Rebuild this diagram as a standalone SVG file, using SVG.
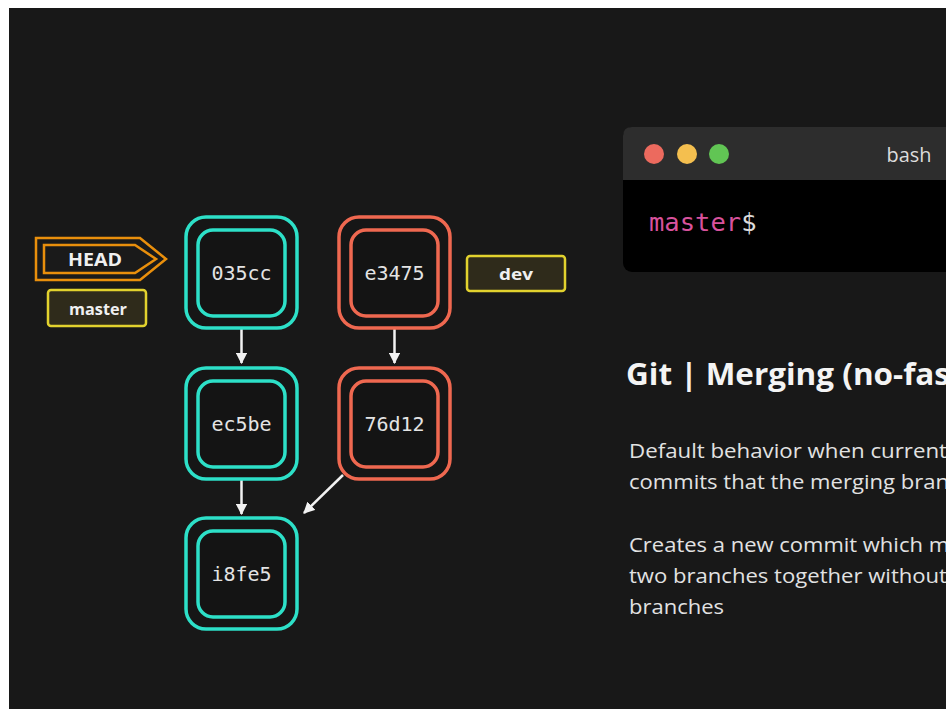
<svg xmlns="http://www.w3.org/2000/svg" width="946" height="709" viewBox="0 0 946 709">
<defs>
<style>
.outerT{fill:#161616;stroke:#2de0c8;stroke-width:3.5}
.innerT{fill:#141414;stroke:#2de0c8;stroke-width:3.5}
.outerR{fill:#161616;stroke:#ef6850;stroke-width:3.5}
.innerR{fill:#141414;stroke:#ef6850;stroke-width:3.5}
.hash{font-family:"DejaVu Sans Mono",monospace;font-size:20px;fill:#e4e4e4;text-anchor:middle;dominant-baseline:central}
.lbl{font-family:"Open Sans",Lato,sans-serif;font-weight:bold;fill:#f0f0f0;text-anchor:middle;dominant-baseline:central}
.branch{fill:#2f2b1b;stroke:#e2d22e;stroke-width:2.5}
.conn{stroke:#f2f2f2;stroke-width:2.5;fill:none}
.body{font-family:"Open Sans",Lato,sans-serif;font-size:20.5px;fill:#e2e2e2}
</style>
<marker id="ah" viewBox="0 0 10 10" refX="9" refY="5" markerWidth="4.6" markerHeight="4.6" orient="auto" markerUnits="strokeWidth">
<path d="M0,0 L10,5 L0,10 z" fill="#f2f2f2"/>
</marker>
</defs>
<rect x="0" y="0" width="946" height="709" fill="#ffffff"/>
<rect x="9" y="8" width="937" height="701" fill="#181818"/>

<g id="connectors">
<line class="conn" x1="241.5" y1="329" x2="241.5" y2="363" marker-end="url(#ah)"/>
<line class="conn" x1="241.5" y1="480" x2="241.5" y2="514" marker-end="url(#ah)"/>
<line class="conn" x1="394.5" y1="329" x2="394.5" y2="363" marker-end="url(#ah)"/>
<line class="conn" x1="343" y1="475" x2="304" y2="513" marker-end="url(#ah)"/>
</g>

<g id="head">
<path d="M36,238 L140,238 L166,259 L140,280 L36,280 Z" fill="#1a1a1a" stroke="#e98f0c" stroke-width="2.5"/>
<path d="M44,245 L135,245 L156,259 L135,273 L44,273 Z" fill="none" stroke="#e98f0c" stroke-width="2.5"/>
<text class="lbl" x="95" y="259" font-size="18" textLength="54" lengthAdjust="spacingAndGlyphs">HEAD</text>
</g>
<g id="master">
<rect class="branch" x="48" y="290" width="98" height="36" rx="3"/>
<text class="lbl" x="98" y="308" font-size="16.5" textLength="58" lengthAdjust="spacingAndGlyphs">master</text>
</g>
<g id="dev">
<rect class="branch" x="467" y="256" width="98" height="35" rx="3"/>
<text class="lbl" x="516" y="273" font-size="16.5" textLength="34" lengthAdjust="spacingAndGlyphs">dev</text>
</g>

<g id="c035cc">
<rect class="outerT" x="186" y="217" width="111" height="111" rx="20"/>
<rect class="innerT" x="198" y="230" width="87" height="86" rx="15"/>
<text class="hash" x="241.5" y="273">035cc</text>
</g>
<g id="cec5be">
<rect class="outerT" x="186" y="368" width="111" height="111" rx="20"/>
<rect class="innerT" x="198" y="381" width="87" height="86" rx="15"/>
<text class="hash" x="241.5" y="424">ec5be</text>
</g>
<g id="ci8fe5">
<rect class="outerT" x="186" y="518" width="111" height="111" rx="20"/>
<rect class="innerT" x="198" y="531" width="87" height="86" rx="15"/>
<text class="hash" x="241.5" y="574">i8fe5</text>
</g>
<g id="ce3475">
<rect class="outerR" x="339" y="217" width="111" height="111" rx="20"/>
<rect class="innerR" x="351" y="230" width="87" height="86" rx="15"/>
<text class="hash" x="394.5" y="273">e3475</text>
</g>
<g id="c76d12">
<rect class="outerR" x="339" y="368" width="111" height="111" rx="20"/>
<rect class="innerR" x="351" y="381" width="87" height="86" rx="15"/>
<text class="hash" x="394.5" y="424">76d12</text>
</g>

<g id="terminal">
<rect x="623" y="127" width="340" height="145" rx="9" fill="#000000"/>
<path d="M623,180 L623,136 Q623,127 632,127 L946,127 L946,180 Z" fill="#2d2d2d"/>
<circle cx="654" cy="154" r="10" fill="#ec6a5e"/>
<circle cx="687" cy="154" r="10" fill="#f4bf4f"/>
<circle cx="719" cy="154" r="10" fill="#61c554"/>
<text x="909" y="154" font-family="'Open Sans',Lato,sans-serif" font-size="20" fill="#dcdcdc" text-anchor="middle" dominant-baseline="central" textLength="45" lengthAdjust="spacingAndGlyphs">bash</text>
<text x="649" y="231" font-family="'DejaVu Sans Mono',monospace" font-size="25.5"><tspan fill="#d8529c">master</tspan><tspan fill="#dadada">$</tspan></text>
</g>

<g id="description">
<text x="626" y="385" font-family="'Open Sans',Lato,sans-serif" font-weight="bold" font-size="30" fill="#f4f4f4" textLength="324" lengthAdjust="spacingAndGlyphs">Git | Merging (no-fas</text>
<text class="body" x="629" y="458" textLength="318" lengthAdjust="spacingAndGlyphs">Default behavior when current</text>
<text class="body" x="629" y="489" textLength="320" lengthAdjust="spacingAndGlyphs">commits that the merging bran</text>
<text class="body" x="629" y="552" textLength="320" lengthAdjust="spacingAndGlyphs">Creates a new commit which m</text>
<text class="body" x="629" y="583" textLength="318" lengthAdjust="spacingAndGlyphs">two branches together without</text>
<text class="body" x="629" y="614" textLength="95" lengthAdjust="spacingAndGlyphs">branches</text>
</g>
</svg>
